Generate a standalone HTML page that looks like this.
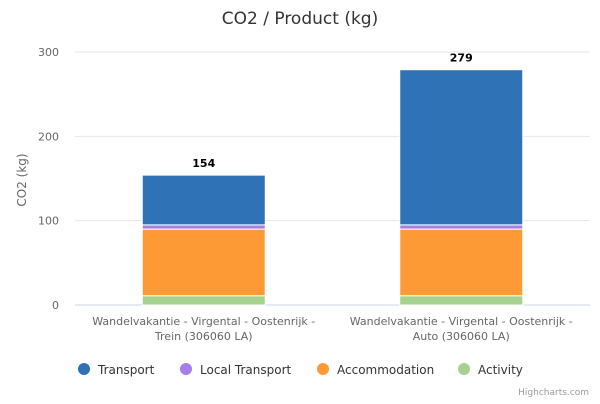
<!DOCTYPE html>
<html><head><meta charset="utf-8"><style>
body{margin:0;background:#fff;font-family:"DejaVu Sans",sans-serif}
svg text{font-family:"DejaVu Sans","Liberation Sans",sans-serif}
</style></head><body>
<svg id="c" width="600" height="400" xmlns="http://www.w3.org/2000/svg">
<text x="300" y="24" text-anchor="middle" font-size="17" fill="#333">CO2 / Product (kg)</text>
<text x="26" y="180" text-anchor="middle" font-size="12" fill="#666" transform="rotate(-90 26 180)">CO2 (kg)</text>
<g id="grid"></g><g id="bars"></g>
<text x="589" y="395" text-anchor="end" font-size="9" fill="#999">Highcharts.com</text>
</svg>
<script>
const categories=["Wandelvakantie - Virgental - Oostenrijk - Trein (306060 LA)","Wandelvakantie - Virgental - Oostenrijk - Auto (306060 LA)"];
const catLines=[["Wandelvakantie - Virgental - Oostenrijk -","Trein (306060 LA)"],["Wandelvakantie - Virgental - Oostenrijk -","Auto (306060 LA)"]];
const seriesNames=["Transport","Local Transport","Accommodation","Activity"];
const seriesColors=["#2f73b6","#a67ee8","#fd9a35","#a6d18e"];
const activity=[11,11];
const accommodation=[79,79];
const localTransport=[5,5];
const transport=[59,184];
const totals=[154,279];
const yTicks=[0,100,200,300];
const NS="http://www.w3.org/2000/svg";
const x0=75,x1=590,yBase=305,yTop=52,yMax=300;
const y=v=>yBase-(yBase-yTop)*v/yMax;
const band=(x1-x0)/categories.length;
function mk(t,a,p){const e=document.createElementNS(NS,t);for(const k in a)e.setAttribute(k,a[k]);p.appendChild(e);return e;}
const grid=document.getElementById('grid'),bars=document.getElementById('bars');
yTicks.forEach(t=>{
 const l=mk('line',{x1:x0,x2:x1,y1:y(t),y2:y(t),stroke:t===0?'#ccd6eb':'#e6e6e6'},grid);
 
 
 const tx=mk('text',{x:x0-16,y:y(t)+4,'text-anchor':'end','font-size':11,fill:'#666'},grid);tx.textContent=t;
 
 
});
const stack=[activity,accommodation,localTransport,transport];
const colIdx=[3,2,1,0];
categories.forEach((c,i)=>{
 const cx=x0+band*(i+0.5),w=123;let acc=0;
 stack.forEach((s,j)=>{
  const r=mk('rect',{x:cx-w/2,y:y(acc+s[i]),width:w,height:y(acc)-y(acc+s[i]),fill:seriesColors[colIdx[j]],stroke:'#fff','stroke-width':1},bars);
  
  
  acc+=s[i];
 });
 const lb=mk('text',{x:cx,y:y(totals[i])-8,'text-anchor':'middle','font-size':11,'font-weight':'bold',fill:'#000'},bars);lb.textContent=totals[i];
 
 
 catLines[i].forEach((t,k)=>{const e=mk('text',{x:cx,y:325+k*15,'text-anchor':'middle','font-size':11,fill:'#666'},bars);e.textContent=t;
  
  });
});
const lx=[78,180,317,458];
seriesNames.forEach((n,i)=>{
 const g=mk('g',{},bars);
 
 
 mk('circle',{cx:lx[i]+6,cy:369,r:6,fill:seriesColors[i]},g);
 const t=mk('text',{x:lx[i]+20,y:374,'font-size':12,fill:'#333'},g);t.textContent=n;
});
</script>
</body></html>
